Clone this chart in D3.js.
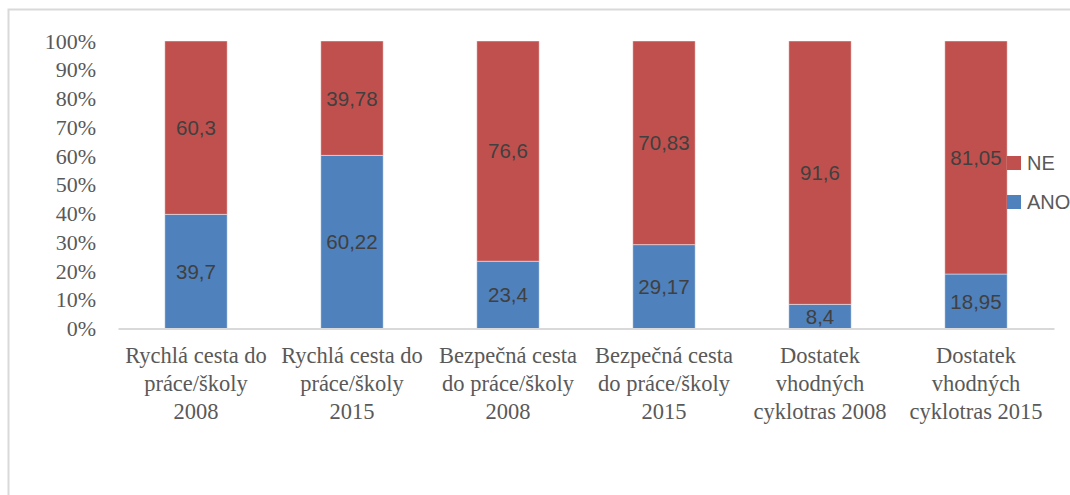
<!DOCTYPE html>
<html>
<head>
<meta charset="utf-8">
<script src="https://cdn.jsdelivr.net/npm/d3@7"></script>
<style>
  html, body { margin: 0; padding: 0; background: #fff; }
  svg { display: block; }
  .serif { font-family: 'Liberation Serif', 'Times New Roman', serif; }
  .sans { font-family: 'Liberation Sans', Arial, sans-serif; }
</style>
</head>
<body>
<svg id="chart" width="1070" height="495"></svg>
<script>
// Categories (line breaks as wrapped in the axis labels)
const categories = [
  "Rychlá cesta do\npráce/školy\n2008",
  "Rychlá cesta do\npráce/školy\n2015",
  "Bezpečná cesta\ndo práce/školy\n2008",
  "Bezpečná cesta\ndo práce/školy\n2015",
  "Dostatek\nvhodných\ncyklotras 2008",
  "Dostatek\nvhodných\ncyklotras 2015"
];
const anoValues = [39.7, 60.22, 23.4, 29.17, 8.4, 18.95];
const neValues  = [60.3, 39.78, 76.6, 70.83, 91.6, 81.05];
const anoLabels = ["39,7", "60,22", "23,4", "29,17", "8,4", "18,95"];
const neLabels  = ["60,3", "39,78", "76,6", "70,83", "91,6", "81,05"];
const yTicks = [0, 10, 20, 30, 40, 50, 60, 70, 80, 90, 100];
const seriesNames = ["NE", "ANO"];

const colors = { ANO: "#4F81BD", NE: "#C0504D" };

const svg = d3.select("#chart");

// chart area frame
svg.append("rect")
  .attr("x", 8.5).attr("y", 9.5)
  .attr("width", 1100).attr("height", 520)
  .attr("fill", "#fff")
  .attr("stroke", "#d9d9d9")
  .attr("stroke-width", 2);

const x = d3.scaleBand()
  .domain(categories)
  .range([118, 1054])
  .paddingInner(0.6)
  .paddingOuter(0.3);

const y = d3.scaleLinear().domain([0, 100]).range([328.5, 41]);

// stacked data
const rows = categories.map((c, i) => ({
  cat: c,
  ANO: anoValues[i],
  NE: neValues[i],
  labANO: anoLabels[i],
  labNE: neLabels[i]
}));
const stacked = d3.stack().keys(["ANO", "NE"])(rows);

// bars
const g = svg.append("g");
stacked.forEach(layer => {
  g.selectAll(null)
    .data(layer)
    .enter()
    .append("rect")
    .attr("x", d => x(d.data.cat))
    .attr("width", x.bandwidth())
    .attr("y", d => y(d[1]))
    .attr("height", d => y(d[0]) - y(d[1]))
    .attr("fill", colors[layer.key])
    .attr("stroke", "rgba(255,255,255,0.45)")
    .attr("stroke-width", 1);
});

// data labels
stacked.forEach(layer => {
  g.selectAll(null)
    .data(layer)
    .enter()
    .append("text")
    .attr("class", "sans")
    .attr("x", d => x(d.data.cat) + x.bandwidth() / 2)
    .attr("y", d => (y(d[0]) + y(d[1])) / 2)
    .attr("dy", "0.36em")
    .attr("text-anchor", "middle")
    .style("font-size", "20.5px")
    .attr("fill", "#404040")
    .text(d => layer.key === "ANO" ? d.data.labANO : d.data.labNE);
});

// y axis (labels only)
const yAxis = d3.axisLeft(y)
  .tickValues(yTicks)
  .tickFormat(d => d + "%")
  .tickSize(0)
  .tickPadding(0);
const yg = svg.append("g")
  .attr("transform", "translate(96,0)")
  .call(yAxis);
yg.select(".domain").remove();
yg.selectAll("text")
  .attr("class", "serif")
  .style("font-size", "22px")
  .attr("fill", "#595959");

// x axis line
const xAxis = d3.axisBottom(x).tickSize(0).tickFormat("");
const xg = svg.append("g")
  .attr("transform", `translate(0,${y(0)})`)
  .call(xAxis);
xg.select(".domain")
  .attr("stroke", "#d9d9d9")
  .attr("stroke-width", 2);

// category labels, multi-line
xg.selectAll(".tick").each(function(d) {
  const lines = d.split("\n");
  const t = d3.select(this).append("text")
    .attr("class", "serif")
    .attr("text-anchor", "middle")
    .style("font-size", "22.5px")
    .attr("fill", "#595959");
  lines.forEach((ln, i) => {
    t.append("tspan")
      .attr("x", 0)
      .attr("y", 34 + i * 28.3)
      .text(ln);
  });
});

// legend
const legend = svg.append("g");
seriesNames.forEach((name, i) => {
  const ly = 163 + i * 39;
  legend.append("rect")
    .attr("x", 1007).attr("y", ly - 7)
    .attr("width", 14).attr("height", 14)
    .attr("fill", colors[name]);
  legend.append("text")
    .attr("class", "sans")
    .attr("x", 1027).attr("y", ly)
    .attr("dy", "0.36em")
    .style("font-size", "20px")
    .attr("fill", "#595959")
    .text(name);
});
</script>
</body>
</html>
